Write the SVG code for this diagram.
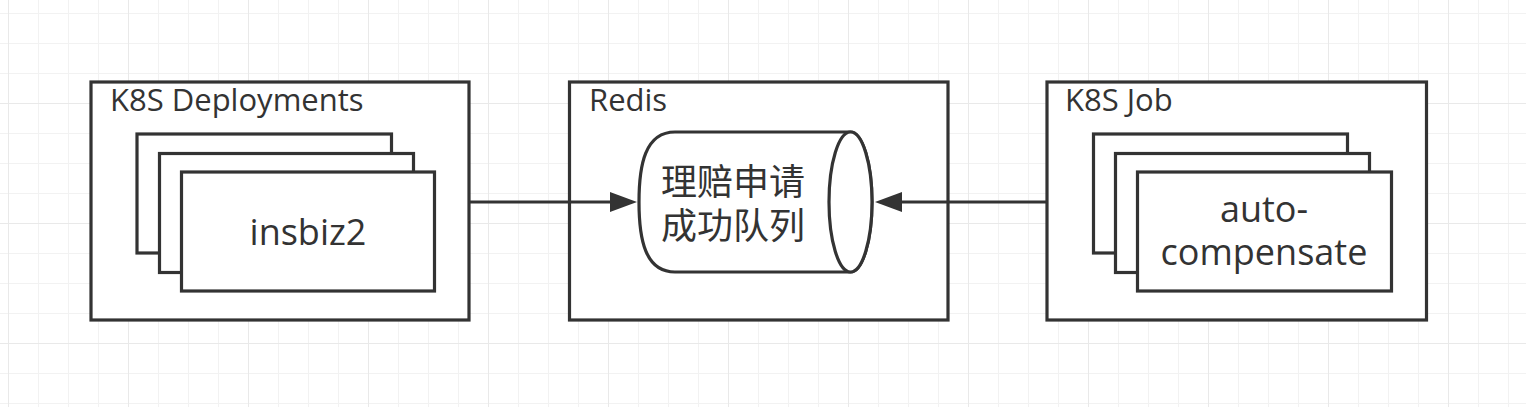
<svg xmlns="http://www.w3.org/2000/svg" width="1526" height="407" viewBox="0 0 1526 407">
<defs>
<pattern id="minor" x="8" y="13" width="30" height="30" patternUnits="userSpaceOnUse">
<path d="M0.5 0 V30 M0 0.5 H30" fill="none" stroke="#f2f2f2" stroke-width="1"/>
</pattern>
<pattern id="major" x="8" y="103" width="120" height="120" patternUnits="userSpaceOnUse">
<path d="M0.5 0 V120 M0 0.5 H120" fill="none" stroke="#e9e9e9" stroke-width="1"/>
</pattern>
<marker id="arrow" markerUnits="userSpaceOnUse" markerWidth="28" markerHeight="20" refX="0" refY="10" orient="auto" viewBox="0 0 28 20">
<path d="M0 0 L27 10 L0 20 Z" fill="#333333"/>
</marker>
</defs>
<style>
.box{fill:#ffffff;stroke:#333333;stroke-width:3.2}
.title{font-family:"Open Sans","Noto Sans CJK SC",sans-serif;font-size:31px;fill:#333333}
.label{font-family:"Open Sans","Noto Sans CJK SC",sans-serif;font-size:36px;fill:#333333;text-anchor:middle}
.cjk{font-family:"Noto Sans CJK SC",sans-serif;font-size:36px;fill:#333333;text-anchor:middle}
.conn{fill:none;stroke:#333333;stroke-width:3.2}
</style>
<rect width="1526" height="407" fill="#ffffff"/>
<rect width="1526" height="407" fill="url(#minor)"/>
<rect width="1526" height="407" fill="url(#major)"/>

<g id="k8s-deployments">
<rect class="box" x="91" y="82" width="378" height="238"/>
<text class="title" x="110" y="111">K8S Deployments</text>
<g id="insbiz2">
<rect class="box" x="137" y="134" width="254.5" height="119"/>
<rect class="box" x="159.5" y="153.5" width="254" height="119"/>
<rect class="box" x="181.5" y="172" width="253" height="119"/>
<text class="label" x="308" y="245">insbiz2</text>
</g>
</g>

<g id="redis">
<rect class="box" x="569.5" y="82" width="378.5" height="238"/>
<text class="title" x="589" y="111">Redis</text>
<g id="queue">
<path class="box" d="M675 132 L850.5 132 A21.5 70 0 0 1 850.5 272 L675 272 C645 272 639 239 639 202 C639 165 645 132 675 132 Z"/>
<ellipse class="box" cx="850.5" cy="202" rx="21.5" ry="70"/>
<text class="cjk"><tspan x="733" y="195">理赔申请</tspan><tspan x="733" y="239">成功队列</tspan></text>
</g>
</g>

<g id="k8s-job">
<rect class="box" x="1047" y="82" width="379.5" height="238"/>
<text class="title" x="1065" y="111">K8S Job</text>
<g id="auto-compensate">
<rect class="box" x="1093.5" y="134" width="254" height="119"/>
<rect class="box" x="1115.5" y="153.5" width="254" height="119"/>
<rect class="box" x="1137.5" y="172" width="254" height="119"/>
<text class="label"><tspan x="1264" y="222">auto-</tspan><tspan x="1264" y="265">compensate</tspan></text>
</g>
</g>

<g id="connectors">
<line class="conn" x1="470" y1="202" x2="610" y2="202" marker-end="url(#arrow)"/>
<line class="conn" x1="1046" y1="202" x2="902" y2="202" marker-end="url(#arrow)"/>
</g>
</svg>
